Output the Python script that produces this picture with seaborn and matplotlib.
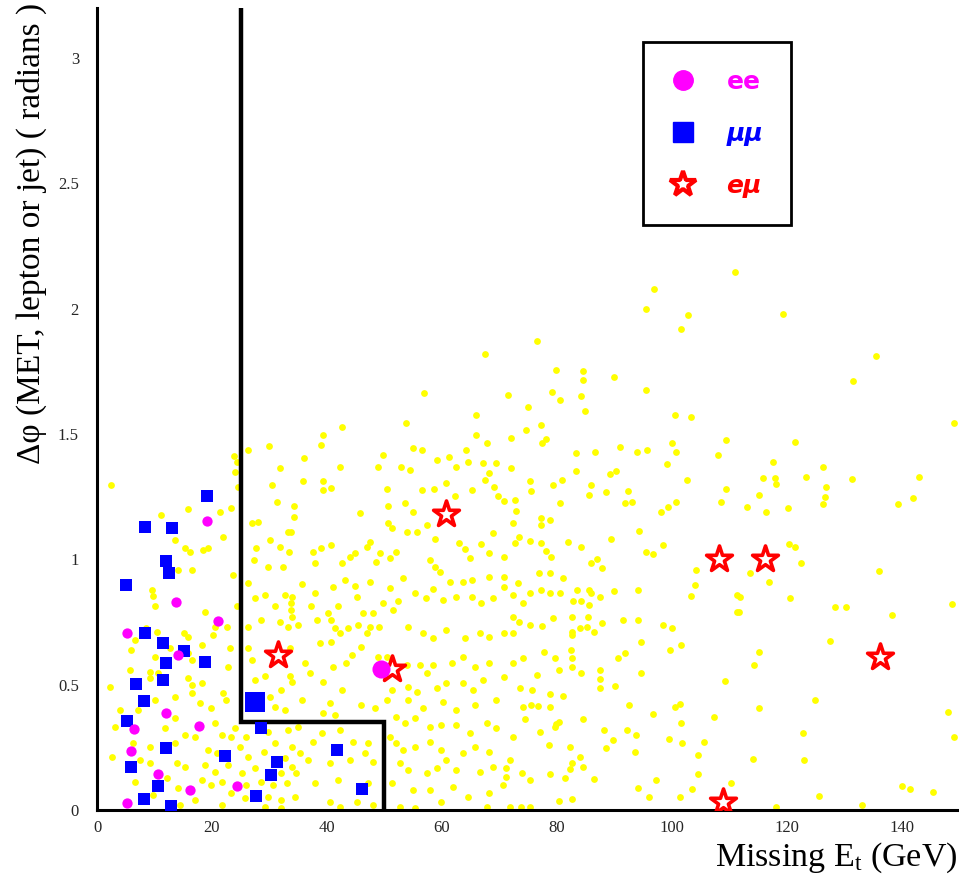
import matplotlib
matplotlib.use("Agg")
import matplotlib.pyplot as plt
from matplotlib.lines import Line2D
from matplotlib.ticker import MultipleLocator, FixedLocator, FixedFormatter
import seaborn as sns
import pandas as pd

# ---------------- data ----------------
# background (yellow) events: (Missing Et [GeV], delta-phi [rad])
bg_points = [
    # right region
    (119.4,1.98),(135.6,1.81),(131.5,1.71),(149.1,1.545),(121.4,1.47),(117.7,1.39),(126.3,1.37),
    (115.9,1.325),(117.9,1.325),(118.1,1.30),(123.4,1.33),(131.3,1.32),(143.0,1.33),(126.8,1.29),
    (115.2,1.255),(126.6,1.25),(126.4,1.22),(142.0,1.245),(139.4,1.22),(113.1,1.21),(116.5,1.19),
    (120.2,1.205),(120.5,1.063),(121.4,1.05),(122.5,0.985),(113.7,0.945),(117.0,0.91),(136.1,0.955),
    (111.9,0.85),(120.6,0.845),(128.5,0.81),(130.3,0.81),(138.4,0.78),(148.7,0.82),(111.8,0.79),
    (127.6,0.675),(115.2,0.63),(114.4,0.58),(124.9,0.44),(115.2,0.405),(148.1,0.39),(149.1,0.29),
    (122.8,0.306),(114.1,0.205),(123.1,0.20),(140.1,0.095),(141.4,0.085),(145.4,0.07),(125.7,0.055),
    (118.2,0.01),(133.1,0.02),
    # top
    (111.0,2.145),(96.9,2.08),(67.5,1.82),
    (26.3,1.437),(29.9,1.453),(23.9,1.413),(24.3,1.39),(31.8,1.364),(24.0,1.35),
    # middle-right region (70-112 GeV)
    (95.6,2.00),(102.8,1.976),(101.6,1.92),(76.5,1.87),(79.9,1.754),(84.5,1.75),(84.6,1.717),
    (90.0,1.727),(71.5,1.654),(79.1,1.667),(80.6,1.637),(84.3,1.653),(84.9,1.593),(95.5,1.677),
    (75.0,1.607),(100.5,1.577),(103.3,1.57),(77.3,1.537),(74.6,1.517),(72.1,1.484),(77.5,1.466),
    (78.2,1.48),(109.5,1.477),(91.0,1.45),(94.0,1.43),(95.7,1.436),(100.1,1.466),(100.7,1.43),
    (83.4,1.424),(86.6,1.428),(108.1,1.417),(99.2,1.38),(72.1,1.364),(83.3,1.353),(89.2,1.341),
    (90.4,1.354),(102.7,1.315),(75.3,1.314),(81.0,1.316),(79.4,1.297),(86.0,1.297),(75.5,1.273),
    (85.7,1.255),(88.6,1.267),(92.4,1.271),(109.5,1.28),(70.8,1.231),(72.7,1.237),(80.5,1.224),
    (91.8,1.226),(93.1,1.23),(98.1,1.191),(99.4,1.207),(100.8,1.229),(108.6,1.228),(72.9,1.195),
    (77.3,1.164),(77.3,1.138),(78.8,1.157),(72.4,1.144),(94.4,1.115),(98.5,1.058),(73.4,1.089),
    (72.7,1.067),(75.3,1.075),(77.3,1.067),(78.2,1.035),(79.0,1.011),(82.0,1.071),(84.2,1.051),
    (89.4,1.082),(95.5,1.031),(96.7,1.02),(70.8,1.009),(86.0,0.985),(87.0,1.0),(87.8,0.965),
    (104.2,0.958),(104.0,0.898),(103.4,0.854),(111.4,0.858),(111.4,0.792),(70.9,0.931),(70.9,0.891),
    (73.3,0.905),(76.9,0.947),(78.8,0.947),(81.1,0.925),(72.4,0.858),(75.4,0.866),(77.2,0.878),
    (78.8,0.866),(80.6,0.864),(83.6,0.878),(85.7,0.878),(86.0,0.866),(87.5,0.848),(89.9,0.875),
    (94.1,0.878),(82.8,0.832),(84.3,0.832),(74.1,0.825),(85.7,0.818),(70.9,0.705),(72.4,0.772),
    (73.4,0.752),(72.4,0.705),(75.3,0.739),(77.5,0.735),(79.4,0.765),(82.7,0.772),(85.4,0.772),
    (85.3,0.732),(86.4,0.712),(87.8,0.748),(84.0,0.725),(82.7,0.712),(82.7,0.70),(91.5,0.758),
    (94.1,0.758),(98.5,0.739),(100.0,0.725),(94.6,0.672),(82.5,0.639),(82.7,0.606),(77.8,0.632),
    (79.7,0.606),(72.4,0.586),(74.1,0.606),(90.7,0.606),(91.8,0.625),(99.7,0.639),(101.7,0.659),
    (82.7,0.572),(84.3,0.546),(87.5,0.559),(87.5,0.522),(87.5,0.488),(90.1,0.495),(94.6,0.546),
    (76.5,0.539),(70.9,0.53),(73.6,0.486),(75.7,0.479),(78.9,0.463),(81.1,0.455),(80.4,0.559),
    (109.2,0.516),(74.1,0.412),(75.6,0.419),(76.8,0.415),(78.9,0.412),(74.4,0.362),(79.9,0.343),
    (80.4,0.352),(84.6,0.362),(77.1,0.313),(79.7,0.333),(92.6,0.419),(96.8,0.382),(101.5,0.422),
    (100.5,0.41),(101.7,0.346),(107.3,0.372),(88.3,0.319),(92.3,0.319),(93.8,0.299),(89.8,0.279),
    (88.6,0.249),(93.6,0.233),(99.5,0.282),(101.8,0.269),(105.7,0.27),(104.6,0.22),(104.6,0.144),
    (103.5,0.083),(110.4,0.106),(72.4,0.293),(71.8,0.20),(71.2,0.166),(71.2,0.133),(78.7,0.259),
    (82.3,0.253),(84.0,0.213),(82.7,0.186),(82.3,0.162),(84.6,0.17),(74.0,0.149),(75.3,0.12),
    (78.8,0.145),(81.4,0.129),(86.4,0.124),(94.1,0.087),(97.3,0.12),(96.0,0.053),(101.4,0.05),
    (71.8,0.013),(73.8,0.012),(75.3,0.012),(80.4,0.035),(82.6,0.045),(70.7,0.10),
    # central region (34-70 GeV)
    (56.9,1.663),(66.0,1.577),(42.6,1.53),(53.7,1.544),(39.3,1.497),(38.9,1.457),(36.1,1.404),
    (42.3,1.368),(48.9,1.368),(49.8,1.417),(55.0,1.444),(56.5,1.435),(52.9,1.368),(54.4,1.357),
    (59.1,1.397),(62.5,1.368),(61.3,1.408),(64.2,1.435),(66.0,1.497),(67.8,1.464),(68.3,1.344),
    (69.5,1.384),(67.2,1.384),(64.6,1.39),(35.9,1.311),(39.4,1.311),(40.8,1.284),(39.4,1.277),
    (50.4,1.28),(56.5,1.277),(58.6,1.28),(60.8,1.304),(62.3,1.251),(65.2,1.277),(67.5,1.317),
    (69.0,1.29),(69.8,1.251),(34.2,1.211),(34.3,1.171),(45.7,1.184),(50.7,1.211),(53.6,1.224),
    (55.0,1.19),(50.7,1.144),(51.3,1.125),(53.9,1.11),(55.6,1.11),(57.4,1.138),(58.8,1.081),
    (63.0,1.065),(64.0,1.041),(64.9,1.005),(66.9,1.06),(68.9,1.104),(68.3,1.025),(33.7,1.11),
    (33.4,1.031),(37.6,1.031),(38.9,1.044),(40.8,1.058),(47.5,1.068),(46.9,1.051),(44.9,1.025),
    (49.3,1.025),(52.1,1.031),(37.9,0.985),(42.7,0.985),(44.0,1.011),(48.6,0.99),(50.9,1.005),
    (57.9,0.998),(58.8,0.971),(59.6,0.951),(61.4,0.911),(63.7,0.911),(65.2,0.918),(68.3,0.931),
    (35.6,0.902),(37.9,0.865),(41.1,0.891),(43.1,0.918),(44.9,0.895),(47.5,0.911),(51.0,0.885),
    (53.3,0.925),(55.3,0.865),(57.3,0.845),(58.5,0.882),(60.2,0.836),(62.5,0.851),(65.2,0.851),
    (66.9,0.825),(68.9,0.845),(33.9,0.851),(33.8,0.798),(37.3,0.812),(40.2,0.785),(41.9,0.812),
    (45.2,0.851),(46.3,0.785),(48.1,0.785),(51.5,0.798),(49.8,0.825),(52.4,0.832),(35.0,0.739),
    (38.2,0.758),(40.8,0.758),(41.4,0.725),(42.3,0.705),(43.7,0.725),(45.5,0.739),(47.5,0.732),
    (49.1,0.73),(46.9,0.705),(54.2,0.732),(56.8,0.705),(58.5,0.685),(60.8,0.719),(64.0,0.685),
    (66.6,0.705),(68.3,0.692),(38.8,0.665),(40.8,0.672),(44.3,0.619),(46.0,0.652),(48.9,0.612),
    (50.4,0.612),(36.2,0.586),(41.1,0.572),(43.4,0.586),(53.9,0.579),(56.2,0.579),(57.4,0.546),
    (58.5,0.579),(61.7,0.586),(63.7,0.612),(65.7,0.572),(68.3,0.586),(34.0,0.512),(37.0,0.546),
    (39.4,0.512),(42.6,0.479),(51.3,0.479),(54.2,0.492),(55.6,0.472),(59.1,0.486),(60.8,0.506),
    (63.7,0.506),(65.5,0.479),(67.2,0.519),(35.6,0.439),(40.5,0.426),(46.0,0.419),(48.3,0.406),
    (50.4,0.439),(54.2,0.439),(56.8,0.406),(60.2,0.432),(62.5,0.399),(65.7,0.419),(69.5,0.439),
    (39.4,0.386),(41.4,0.379),(52.1,0.372),(53.6,0.346),(55.3,0.366),(57.9,0.333),(59.9,0.339),
    (62.5,0.339),(64.9,0.306),(67.8,0.346),(69.5,0.326),(35.0,0.333),(37.6,0.273),(39.1,0.306),
    (42.3,0.319),(44.6,0.273),(46.6,0.226),(47.2,0.266),(51.0,0.293),(52.1,0.266),(53.3,0.239),
    (55.3,0.253),(57.9,0.273),(59.9,0.239),(60.8,0.2),(63.7,0.226),(65.7,0.253),(68.3,0.233),
    (35.3,0.226),(36.8,0.2),(40.5,0.186),(44.0,0.2),(48.0,0.193),(52.7,0.186),(54.2,0.16),
    (57.4,0.146),(59.1,0.166),(62.5,0.16),(66.6,0.153),(68.9,0.173),(34.7,0.146),(37.9,0.106),
    (41.9,0.12),(47.2,0.106),(51.3,0.106),(55.0,0.08),(57.9,0.08),(61.9,0.093),(64.6,0.053),
    (68.3,0.066),(34.4,0.053),(40.5,0.033),(42.3,0.013),(45.2,0.033),(48.1,0.02),(52.7,0.013),
    (55.3,0.007),(59.9,0.033),(67.8,0.013),
    # left region (0-34 GeV)
    (2.5,1.297),(24.5,1.29),(30.4,1.297),(31.4,1.227),(11.2,1.178),(15.8,1.2),(21.4,1.191),
    (23.4,1.204),(28.1,1.151),(26.9,1.145),(30.1,1.078),(33.3,1.111),(13.5,1.078),(15.3,1.045),
    (16.2,1.031),(18.5,1.037),(19.4,1.045),(22.0,1.091),(27.6,1.045),(31.8,1.051),(27.4,0.998),
    (29.8,0.971),(32.4,0.971),(14.1,0.958),(16.6,0.958),(23.7,0.938),(26.3,0.905),(9.6,0.878),
    (9.8,0.852),(10.1,0.812),(18.8,0.792),(24.3,0.812),(27.5,0.845),(29.2,0.858),(30.9,0.812),
    (32.7,0.858),(33.7,0.825),(8.6,0.725),(10.4,0.712),(15.2,0.705),(15.9,0.692),(20.6,0.732),
    (22.6,0.732),(26.3,0.732),(28.6,0.758),(31.8,0.752),(33.3,0.732),(33.9,0.772),(6.6,0.679),
    (6.0,0.639),(10.1,0.612),(12.7,0.646),(15.9,0.625),(16.6,0.599),(18.3,0.659),(20.2,0.699),
    (23.1,0.646),(26.3,0.646),(33.6,0.646),(5.7,0.559),(9.2,0.552),(9.2,0.526),(10.7,0.546),
    (15.9,0.526),(16.5,0.499),(18.2,0.506),(22.8,0.572),(26.9,0.599),(27.5,0.519),(29.2,0.533),
    (32.1,0.479),(33.6,0.533),(2.3,0.492),(10.1,0.439),(13.6,0.452),(16.5,0.466),(17.9,0.426),
    (19.9,0.406),(21.9,0.466),(22.5,0.439),(30.1,0.452),(30.9,0.412),(32.7,0.399),(4.0,0.4),
    (7.2,0.399),(13.6,0.366),(3.1,0.333),(11.8,0.326),(15.3,0.299),(17.0,0.293),(20.5,0.346),
    (21.7,0.299),(23.4,0.293),(24.0,0.326),(26.0,0.293),(30.9,0.266),(33.3,0.319),(33.9,0.253),
    (29.8,0.313),(6.3,0.266),(9.2,0.253),(13.6,0.266),(19.4,0.24),(20.8,0.226),(24.9,0.253),
    (26.3,0.213),(29.0,0.233),(32.7,0.206),(2.55,0.213),(7.5,0.2),(9.2,0.186),(13.9,0.186),
    (15.3,0.173),(18.8,0.18),(20.5,0.153),(22.8,0.18),(25.2,0.146),(27.5,0.166),(32.1,0.146),
    (33.9,0.173),(6.6,0.113),(12.1,0.126),(14.1,0.087),(18.2,0.12),(19.9,0.1),(21.7,0.113),
    (26.0,0.1),(28.6,0.113),(30.7,0.1),(33.0,0.106),(9.8,0.06),(17.0,0.039),(23.4,0.066),
    (25.7,0.046),(29.8,0.053),(32.1,0.039),(14.4,0.019),(21.7,0.019),(32.1,0.006),(29.2,0.013),
]
bg_x = [p[0] for p in bg_points]
bg_y = [p[1] for p in bg_points]

# ee candidates (magenta circles)
ee_x = [19.1, 13.7, 21.1, 5.3, 14.1, 12.0, 6.4, 17.8, 5.9, 10.7, 16.1, 24.4, 5.2]
ee_y = [1.155, 0.828, 0.756, 0.708, 0.619, 0.386, 0.322, 0.337, 0.237, 0.144, 0.080, 0.096, 0.027]
ee_sel_x = [49.4]
ee_sel_y = [0.563]

# mu-mu candidates (blue squares)
mm_x = [19.1, 8.4, 13.1, 12.0, 12.5, 5.0, 8.4, 11.4, 15.1, 12.0, 18.8, 6.7, 11.4, 8.1, 5.3,
        12.0, 6.0, 10.7, 8.1, 12.8, 28.5, 22.3, 31.3, 30.3, 27.6, 41.7, 46.1]
mm_y = [1.254, 1.131, 1.124, 0.994, 0.945, 0.898, 0.708, 0.665, 0.635, 0.585, 0.591, 0.504, 0.519,
        0.434, 0.357, 0.248, 0.173, 0.096, 0.043, 0.016, 0.326, 0.217, 0.192, 0.138, 0.057, 0.240, 0.085]
mm_sel_x = [27.5]
mm_sel_y = [0.432]

# e-mu candidates (red stars)
em_x = [31.5, 51.3, 60.7, 108.2, 116.3, 136.2, 109.0]
em_y = [0.619, 0.563, 1.18, 1.00, 1.00, 0.61, 0.032]

# selection cut boundary
cut_x = [25, 25, 50, 50]
cut_y = [3.2, 0.35, 0.35, 0.0]

x_ticks = [0, 20, 40, 60, 80, 100, 120, 140]
y_ticks = [0, 0.5, 1, 1.5, 2, 2.5, 3]
y_tick_labels = ["0", "0.5", "1", "1.5", "2", "2.5", "3"]
legend_labels = ["ee", "\u03bc\u03bc", "e\u03bc"]

# ---------------- style ----------------
sns.set_style("white")
plt.rcParams["font.family"] = ["Liberation Serif", "DejaVu Serif"]
plt.rcParams["mathtext.fontset"] = "custom"
plt.rcParams["mathtext.rm"] = "Liberation Serif"
plt.rcParams["mathtext.it"] = "Liberation Serif:italic"

YELLOW = "#FFFF00"
BLUE = "#0000FF"
MAGENTA = "#FF00FF"
RED = "#FF0000"

fig = plt.figure(figsize=(9.59, 8.80), dpi=100)
fig.patch.set_facecolor("white")
ax = fig.add_axes([97/959, 70/880, 862/959, 802/880])
ax.set_facecolor("white")

bg_df = pd.DataFrame({"met": bg_x, "dphi": bg_y})
sns.scatterplot(data=bg_df, x="met", y="dphi", ax=ax, color=YELLOW, s=24,
                marker="o", linewidth=0, zorder=2, legend=False)

ax.plot(cut_x, cut_y, color="black", lw=3.2, zorder=3, solid_joinstyle="miter")

em_df = pd.DataFrame({"met": em_x, "dphi": em_y})
sns.scatterplot(data=em_df, x="met", y="dphi", ax=ax, marker="*", s=380,
                facecolor="white", edgecolor=RED, linewidth=2.6, zorder=4, legend=False)

mm_df = pd.DataFrame({"met": mm_x, "dphi": mm_y})
sns.scatterplot(data=mm_df, x="met", y="dphi", ax=ax, marker="s", s=70,
                color=BLUE, linewidth=0, zorder=5, legend=False)
sns.scatterplot(x=mm_sel_x, y=mm_sel_y, ax=ax, marker="s", s=190,
                color=BLUE, linewidth=0, zorder=5, legend=False)

ee_df = pd.DataFrame({"met": ee_x, "dphi": ee_y})
sns.scatterplot(data=ee_df, x="met", y="dphi", ax=ax, marker="o", s=55,
                color=MAGENTA, linewidth=0, zorder=6, legend=False)
sns.scatterplot(x=ee_sel_x, y=ee_sel_y, ax=ax, marker="o", s=170,
                color=MAGENTA, linewidth=0, zorder=6, legend=False)

ax.set_xlim(0, 150)
ax.set_ylim(0, 3.2)
ax.set_xlabel("")
ax.set_ylabel("")

ax.xaxis.set_major_locator(FixedLocator(x_ticks))
ax.xaxis.set_minor_locator(MultipleLocator(5))
ax.yaxis.set_major_locator(FixedLocator(y_ticks))
ax.yaxis.set_major_formatter(FixedFormatter(y_tick_labels))
ax.yaxis.set_minor_locator(MultipleLocator(0.1))

ax.tick_params(axis="both", which="major", direction="in", length=11, width=1.6,
               labelsize=12, color="black")
ax.tick_params(axis="both", which="minor", direction="in", length=6, width=1.6, color="black")
ax.tick_params(axis="x", which="major", pad=7)
ax.tick_params(axis="y", which="major", pad=13)
ax.tick_params(top=False, right=False, which="both")

for side in ["top", "right"]:
    ax.spines[side].set_visible(False)
for side in ["left", "bottom"]:
    ax.spines[side].set_linewidth(2.2)
    ax.spines[side].set_color("black")

# axis titles
fig.text(957/959, (880-866)/880, r"Missing E$_\mathrm{t}$ (GeV)", ha="right",
         va="baseline", fontsize=24.5, color="black")
fig.text(31/959, (880-3)/880, "\u0394\u03c6 (MET, lepton or jet) ( radians )",
         rotation=90, ha="center", va="top", fontsize=24, color="black")

# legend
handles = [
    Line2D([], [], linestyle="none", marker="o", markersize=14, color=MAGENTA),
    Line2D([], [], linestyle="none", marker="s", markersize=14, color=BLUE),
    Line2D([], [], linestyle="none", marker="*", markersize=19, markerfacecolor="white",
           markeredgecolor=RED, markeredgewidth=3.0),
]
leg = ax.legend(handles, legend_labels, loc="upper left", bbox_to_anchor=(0.633, 0.9576),
                frameon=True, fancybox=False, borderpad=1.1, labelspacing=1.12,
                handlelength=1.0, handletextpad=1.25, borderaxespad=0,
                prop={"family": "DejaVu Sans", "size": 18, "weight": "bold"})
leg.get_frame().set_edgecolor("black")
leg.get_frame().set_linewidth(2.0)
leg.get_frame().set_alpha(1)
for t, c in zip(leg.get_texts(), [MAGENTA, BLUE, RED]):
    t.set_color(c)
for t in leg.get_texts()[1:]:
    t.set_fontstyle("italic")
leg.set_zorder(10)

fig.savefig("out.png", dpi=100, facecolor="white")
